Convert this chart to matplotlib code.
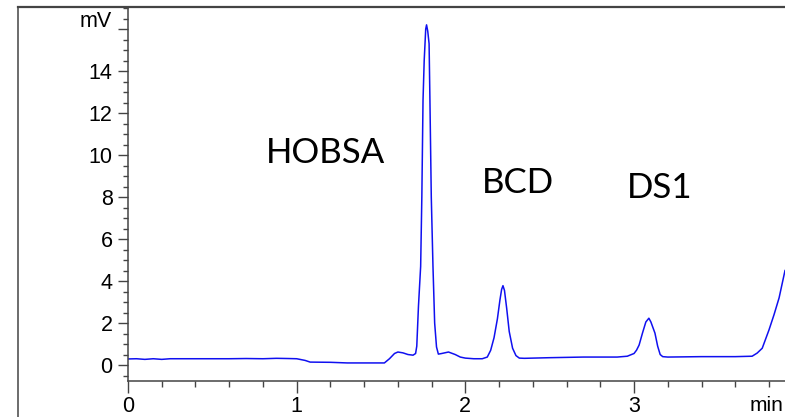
import numpy as np
import matplotlib
matplotlib.use('Agg')
import matplotlib.pyplot as plt
from matplotlib.lines import Line2D
from matplotlib.ticker import MultipleLocator

t = [0.00, 0.05, 0.10, 0.15, 0.20, 0.25, 0.40, 0.60, 0.70, 0.80, 0.88, 0.95,
     1.00, 1.05, 1.08, 1.20, 1.30, 1.40, 1.52, 1.55, 1.58, 1.60, 1.63, 1.66,
     1.690, 1.705, 1.712, 1.722, 1.735, 1.742, 1.749, 1.756, 1.765, 1.770,
     1.777, 1.785, 1.790, 1.798, 1.808, 1.818, 1.829, 1.840, 1.86, 1.90,
     1.94, 1.97, 2.00, 2.05, 2.10, 2.13, 2.15, 2.17, 2.19, 2.205, 2.215,
     2.223, 2.232, 2.245, 2.26, 2.28, 2.30, 2.32, 2.35, 2.50, 2.70, 2.90,
     2.96, 3.00, 3.015, 3.03, 3.05, 3.07, 3.088, 3.10, 3.124, 3.14, 3.155,
     3.17, 3.20, 3.40, 3.60, 3.70, 3.73, 3.76, 3.80, 3.83, 3.86, 3.895]
mv = [0.29, 0.30, 0.27, 0.30, 0.27, 0.30, 0.30, 0.30, 0.31, 0.30, 0.32, 0.31,
      0.30, 0.22, 0.14, 0.13, 0.10, 0.10, 0.10, 0.30, 0.55, 0.62, 0.58, 0.50,
      0.47, 0.55, 0.90, 2.8, 4.7, 8.0, 12.6, 14.5, 16.0, 16.2,
      15.9, 15.3, 12.6, 8.0, 4.7, 2.0, 0.86, 0.52, 0.55, 0.62,
      0.50, 0.38, 0.33, 0.30, 0.30, 0.38, 0.70, 1.3, 2.2, 3.1, 3.6,
      3.78, 3.55, 2.7, 1.6, 0.8, 0.45, 0.33, 0.32, 0.35, 0.38, 0.38,
      0.42, 0.55, 0.71, 0.95, 1.52, 2.05, 2.23, 2.05, 1.52, 0.90, 0.50,
      0.40, 0.38, 0.40, 0.40, 0.42, 0.57, 0.80, 1.67, 2.4, 3.2, 4.5]

etiquetas = ['HOBSA', 'BCD', 'DS1']
etq_x = [1.17, 2.31, 3.15]
etq_y = [10.1, 8.65, 8.45]

gris = '#444444'
plt.rcParams['font.family'] = ['Liberation Sans', 'DejaVu Sans']

fig = plt.figure(figsize=(7.85, 4.17), dpi=100)
ax = fig.add_axes([128/785, 36/417, 1 - 128/785, (381-7)/417])
ax.plot(t, mv, color='#1010f0', lw=1.1)

ax.set_xlim(0, 3.895)
ax.set_ylim(-0.76, 17.05)
ax.xaxis.set_major_locator(MultipleLocator(1))
ax.xaxis.set_minor_locator(MultipleLocator(0.2))
ax.set_yticks(range(0, 17, 2))
ax.set_yticklabels([str(v) for v in range(0, 15, 2)] + [''])
ax.yaxis.set_minor_locator(MultipleLocator(0.5))

for s in ['top', 'right']:
    ax.spines[s].set_visible(False)
for s in ['left', 'bottom']:
    ax.spines[s].set_color(gris)
    ax.spines[s].set_linewidth(1.1)
ax.tick_params(axis='y', which='major', length=7, width=1.0, color=gris, pad=4, labelsize=15.5)
ax.tick_params(axis='y', which='minor', length=3.6, width=1.0, color=gris)
ax.tick_params(axis='x', which='major', length=8.6, width=1.0, color=gris, pad=2, labelsize=15.5)
ax.tick_params(axis='x', which='minor', length=4.5, width=1.0, color=gris)

ax.text(-0.095, 16.38, 'mV', ha='right', va='center', fontsize=15.5, clip_on=False)
ax.text(3.888, -2.2, 'min', ha='right', va='baseline', fontsize=15, clip_on=False)

for nom, xx, yy in zip(etiquetas, etq_x, etq_y):
    ax.text(xx, yy, nom, ha='center', va='center', fontsize=25, family=['Lato', 'DejaVu Sans'])

# marco exterior
fig.add_artist(Line2D([18/785, 18/785], [0, 410/417], color=gris, lw=1.1))
fig.add_artist(Line2D([18/785, 1], [410/417, 410/417], color=gris, lw=1.6))

plt.savefig('out.png', dpi=100)
